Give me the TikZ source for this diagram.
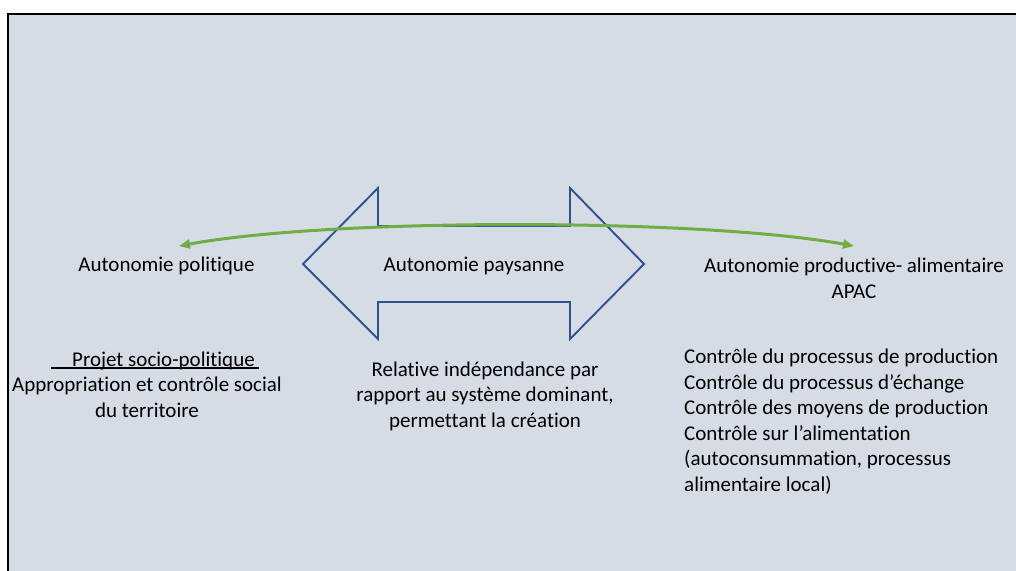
\documentclass[tikz,border=0pt]{standalone}
\usepackage{fontspec}
\setmainfont[Ligatures=NoCommon]{Carlito}
\usetikzlibrary{arrows.meta}
\definecolor{fond}{HTML}{D6DCE5}
\definecolor{bleu}{HTML}{2F528F}
\definecolor{vert}{HTML}{70AD47}
\newcommand\souligne[1]{\setbox0\hbox{#1}\rlap{\rule[-2.6pt]{\wd0}{1.3pt}}\box0}
\begin{document}
\begin{tikzpicture}[x=1pt,y=-1pt,line join=miter,
	txt/.style={font=\fontsize{21}{25.5}\selectfont,inner sep=0pt,anchor=base,align=center},
	fleche/.style={draw=bleu,line width=1.9pt},
	lien/.style={draw=vert,line width=3pt,{Triangle[length=11pt,width=9pt]}-{Triangle[length=11pt,width=9pt]}}]
	\useasboundingbox (0,0) rectangle (1016,570);
	\fill[white] (0,0) rectangle (1016,570);
	\draw[fill=fond,line width=1.5pt] (8,14) rectangle (1040,600);
	% double fleche bleue
	\draw[fleche] (303,264)--(378,188)--(378,226)--(570,226)--(570,188)--(644,264)
		--(570,339)--(570,302)--(378,302)--(378,339)--cycle;
	\node[txt] (paysanne) at (474,271) {Autonomie paysanne};
	\node[txt] (politique) at (166.5,271.7) {Autonomie politique};
	% (base = derniere ligne)
	\node[txt] (productive) at (854,298) {Autonomie productive- alimentaire\\APAC};
	% arc vert
	\coordinate (gauche) at (179,246);
	\coordinate (droite) at (854,246);
	\draw[lien] (gauche) .. controls (330,218) and (700,218) .. (droite);
	% textes du bas
	\node[txt] (projet) at (147,417) {\hspace*{16pt}\souligne{\hspace*{21pt}Projet socio-politique\hspace*{4pt}}\\
		Appropriation et contrôle social\\du territoire};
	\node[txt] (independance) at (485,427) {Relative indépendance par\\rapport au système dominant,\\permettant la création};
	\node[txt,anchor=base west,align=left] (controle) at (684,491) {Contrôle du processus de production\\
		Contrôle du processus d’échange\\Contrôle des moyens de production\\Contrôle sur l’alimentation\\
		(autoconsummation, processus\\alimentaire local)};
\end{tikzpicture}
\end{document}
